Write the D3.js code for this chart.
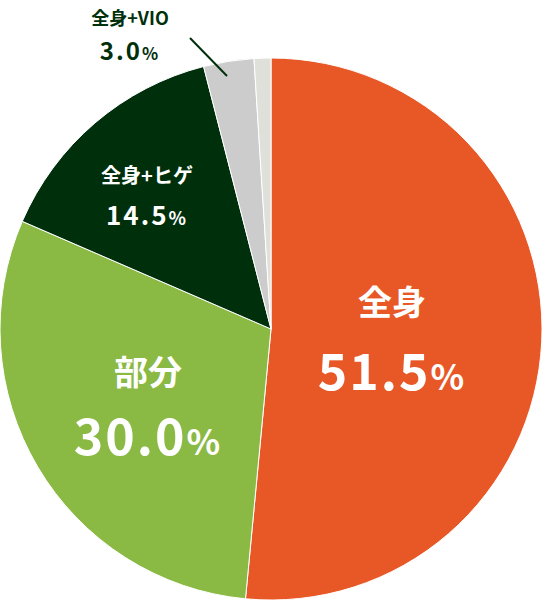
<html>
<head>
<script src="https://cdn.jsdelivr.net/npm/d3@7"></script>
<style>body{margin:0;background:#fff}</style>
</head>
<body>
<script>
var labels = ["全身", "部分", "全身+ヒゲ", "全身+VIO", "その他"];
var values = [51.5, 30.0, 14.5, 3.0, 1.0];
var colors = ["#e85827", "#8ab944", "#002f0c", "#cccccc", "#dfe0da"];

var width = 543, height = 600, cx = 271, cy = 329, r = 271;
var svg = d3.select("body").append("svg").attr("width", width).attr("height", height);
var g = svg.append("g").attr("transform", "translate(" + cx + "," + cy + ")");

var pie = d3.pie().sort(null)(values);
var arc = d3.arc().innerRadius(0).outerRadius(r);

g.selectAll("path").data(pie).enter().append("path")
  .attr("d", arc)
  .attr("fill", function (d, i) { return colors[i]; })
  .attr("stroke", "#fff").attr("stroke-width", 1);

var font = "'Noto Sans CJK JP', sans-serif";
// label settings: [x, y name, y value, name size, value size, colour]
var lab = [
  [392, 315, 390, 34, 50, "#fff"],
  [148, 385, 455, 34, 50, "#fff"],
  [147, 183, 225, 20, 26, "#fff"],
  [130, 25, 60, 18, 24, "#002f0c"]
];
lab.forEach(function (l, i) {
  svg.append("text").attr("x", l[0]).attr("y", l[1]).attr("text-anchor", "middle")
    .attr("font-family", font).attr("font-weight", "bold").attr("font-size", l[3])
    .attr("fill", l[5]).text(labels[i]);
  var t = svg.append("text").attr("x", l[0]).attr("y", l[2]).attr("text-anchor", "middle")
    .attr("font-family", font).attr("font-weight", "bold").attr("font-size", l[4])
    .attr("letter-spacing", 2).attr("fill", l[5]);
  t.append("tspan").text(values[i].toFixed(1));
  t.append("tspan").attr("font-size", l[4] * 0.7).text("%");
});

svg.append("line").attr("x1", 190).attr("y1", 38).attr("x2", 227).attr("y2", 76)
  .attr("stroke", "#002f0c").attr("stroke-width", 2);
</script>
</body>
</html>
